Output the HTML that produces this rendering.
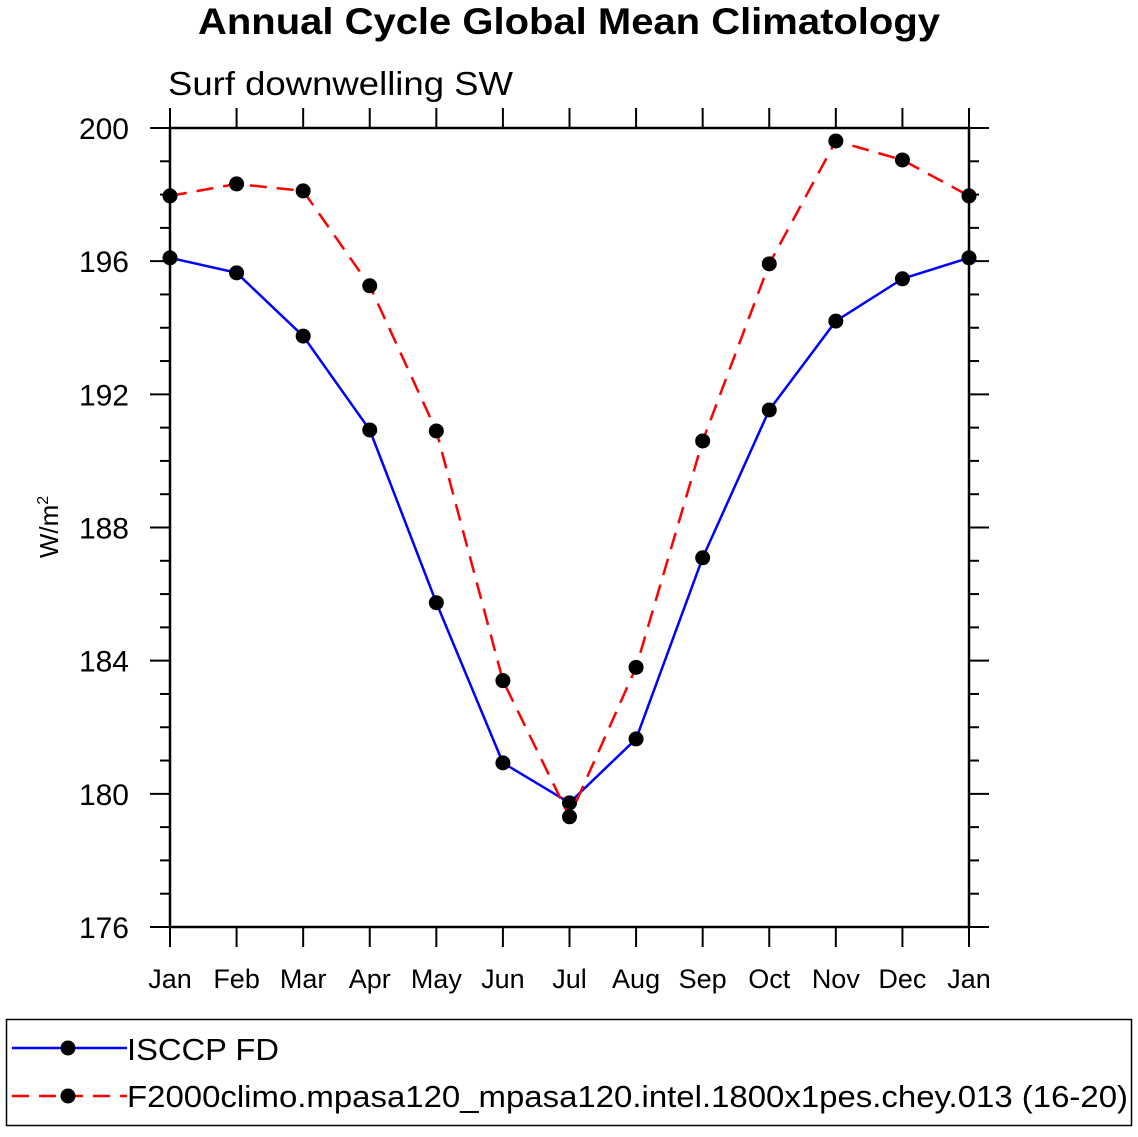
<!DOCTYPE html>
<html><head><meta charset="utf-8"><style>
html,body{margin:0;padding:0;background:#fff;}
svg text{font-family:"Liberation Sans",Arial,sans-serif;}
</style></head><body>
<svg id="chart" width="1138" height="1132" xmlns="http://www.w3.org/2000/svg">
<text x="198" y="34" font-size="37" font-weight="bold" textLength="742" lengthAdjust="spacingAndGlyphs">Annual Cycle Global Mean Climatology</text>
<text x="168" y="95" font-size="33" textLength="345" lengthAdjust="spacingAndGlyphs">Surf downwelling SW</text>
<text transform="translate(58,527) rotate(-90)" text-anchor="middle" font-size="26">W/m<tspan font-size="16" dy="-10">2</tspan></text>
<g id="axes"></g>
<g id="series"></g>
<rect x="6.5" y="1019.5" width="1125" height="106" fill="none" stroke="#000" stroke-width="1.5"/>
<g>
<line x1="12" y1="1048" x2="127" y2="1048" stroke="#0000ff" stroke-width="2.5"/>
<circle cx="68" cy="1048" r="7.5" fill="#000"/>
<text x="127" y="1060" font-size="31" textLength="152" lengthAdjust="spacingAndGlyphs">ISCCP FD</text>
</g>
<g>
<line x1="12" y1="1096" x2="127" y2="1096" stroke="#ff0000" stroke-width="2.5" stroke-dasharray="17,10"/>
<circle cx="68" cy="1096" r="7.5" fill="#000"/>
<text x="127" y="1107" font-size="31" textLength="1001" lengthAdjust="spacingAndGlyphs">F2000climo.mpasa120_mpasa120.intel.1800x1pes.chey.013 (16-20)</text>
</g>
</svg>
<script>
const months = ["Jan","Feb","Mar","Apr","May","Jun","Jul","Aug","Sep","Oct","Nov","Dec","Jan"];
const isccp = [196.1,195.65,193.75,190.93,185.74,180.93,179.73,181.65,187.09,191.53,194.2,195.47,196.1];
const model = [197.96,198.32,198.11,195.26,190.9,183.4,179.31,183.8,190.6,195.92,199.61,199.04,197.96];
const yTicks = [176,180,184,188,192,196,200];
const yMin=176,yMax=200;
const L=170,R=969,T=128,B=927;
const NS="http://www.w3.org/2000/svg";
function x(i){return L+(R-L)*i/(months.length-1);}
function y(v){return B-(B-T)*(v-yMin)/(yMax-yMin);}
function mk(tag,attrs,parent){const e=document.createElementNS(NS,tag);for(const k in attrs)e.setAttribute(k,attrs[k]);parent.appendChild(e);return e;}
const ax=document.getElementById('axes');
const frame=mk('rect',{x:L,y:T,width:R-L,height:B-T,fill:'none',stroke:'#000','stroke-width':2.5},ax);


for(let v=yMin;v<=yMax;v++){
  const major=(v-yMin)%4===0;const len=major?20:10;const yy=y(v);
  mk('line',{x1:L-len,y1:yy,x2:L,y2:yy,stroke:'#000','stroke-width':2},ax);
  mk('line',{x1:R,y1:yy,x2:R+len,y2:yy,stroke:'#000','stroke-width':2},ax);
}
yTicks.forEach(v=>{
  const t=mk('text',{x:129,y:y(v)+11,'text-anchor':'end','font-size':30},ax);
  t.textContent=v;
  
  
});
months.forEach((m,i)=>{
  const xx=x(i);
  mk('line',{x1:xx,y1:B,x2:xx,y2:B+20,stroke:'#000','stroke-width':2},ax);
  mk('line',{x1:xx,y1:T-20,x2:xx,y2:T,stroke:'#000','stroke-width':2},ax);
  const t=mk('text',{x:xx,y:988,'text-anchor':'middle','font-size':27},ax);
  t.textContent=m;
  
  
});
const sg=document.getElementById('series');
function draw(data,color,dash,name){
  const pts=data.map((v,i)=>x(i)+','+y(v)).join(' ');
  const pl=mk('polyline',{points:pts,fill:'none',stroke:color,'stroke-width':2.5},sg);
  if(dash)pl.setAttribute('stroke-dasharray',dash);
  
  
  data.forEach((v,i)=>{
    const c=mk('circle',{cx:x(i),cy:y(v),r:7.5,fill:'#000'},sg);
    
    
  });
}
draw(isccp,'#0000ff',null,'isccp');
draw(model,'#ff0000','17,10','model');
</script>
</body></html>
